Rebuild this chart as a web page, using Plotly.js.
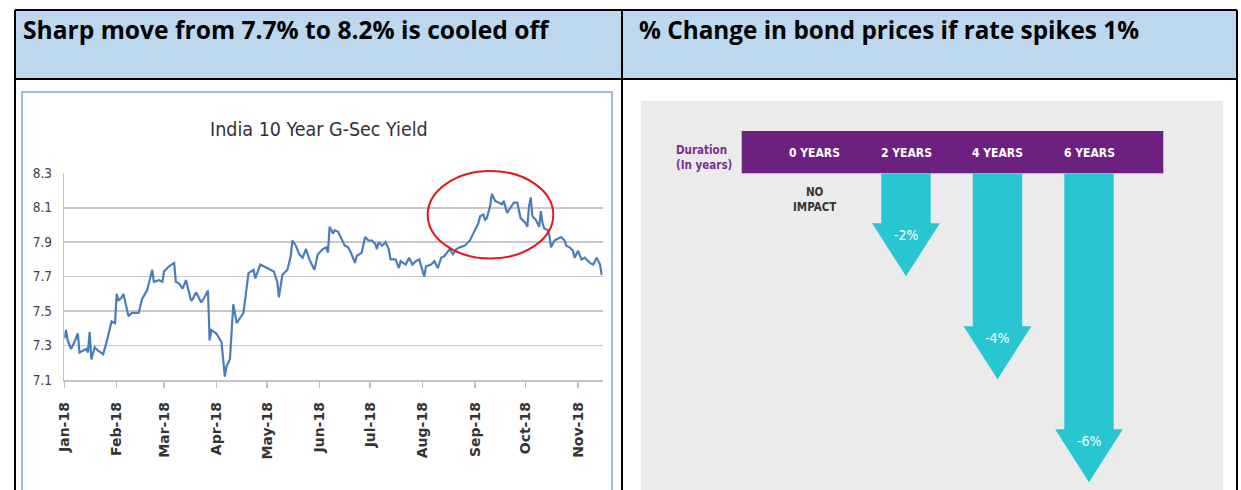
<!DOCTYPE html>
<html><head><meta charset="utf-8">
<script src="https://cdn.plot.ly/plotly-3.0.1.min.js"></script>
<style>html,body{margin:0;padding:0;background:#fff;}#chart{width:1241px;height:490px;}</style>
</head><body><div id="chart"></div>
<script>
// ---------- Left panel data: India 10 Year G-Sec Yield (%) ----------
const dates = ['2018-01-01','2018-01-02','2018-01-03','2018-01-05','2018-01-07','2018-01-09','2018-01-10','2018-01-12','2018-01-14','2018-01-15','2018-01-16','2018-01-17','2018-01-19','2018-01-21','2018-01-24','2018-01-26','2018-01-29','2018-01-31',
'2018-02-01','2018-02-02','2018-02-04','2018-02-05','2018-02-08','2018-02-10','2018-02-13','2018-02-14','2018-02-16','2018-02-19','2018-02-22','2018-02-23','2018-02-26','2018-02-28',
'2018-03-01','2018-03-04','2018-03-07','2018-03-08','2018-03-10','2018-03-12','2018-03-14','2018-03-17','2018-03-18','2018-03-20','2018-03-23','2018-03-25','2018-03-27','2018-03-28','2018-03-29',
'2018-04-01','2018-04-04','2018-04-06','2018-04-07','2018-04-09','2018-04-11','2018-04-13','2018-04-15','2018-04-17','2018-04-20','2018-04-23','2018-04-24','2018-04-27',
'2018-05-01','2018-05-05','2018-05-07','2018-05-08','2018-05-10','2018-05-13','2018-05-15','2018-05-16','2018-05-18','2018-05-20','2018-05-22','2018-05-24','2018-05-26','2018-05-29','2018-05-31',
'2018-06-03','2018-06-05','2018-06-06','2018-06-07','2018-06-09','2018-06-10','2018-06-12','2018-06-14','2018-06-16','2018-06-18','2018-06-20','2018-06-22','2018-06-23','2018-06-26','2018-06-28','2018-06-30',
'2018-07-02','2018-07-04','2018-07-05','2018-07-06','2018-07-08','2018-07-10','2018-07-12','2018-07-13','2018-07-15','2018-07-16','2018-07-18','2018-07-19','2018-07-22','2018-07-24','2018-07-26','2018-07-28','2018-07-30',
'2018-08-01','2018-08-02','2018-08-03','2018-08-06','2018-08-08','2018-08-10','2018-08-12','2018-08-14','2018-08-17','2018-08-19','2018-08-21','2018-08-23','2018-08-26','2018-08-29',
'2018-09-01','2018-09-03','2018-09-04','2018-09-06','2018-09-07','2018-09-08','2018-09-10','2018-09-11','2018-09-13','2018-09-15','2018-09-17','2018-09-18','2018-09-20','2018-09-22','2018-09-24','2018-09-26','2018-09-28',
'2018-10-01','2018-10-02','2018-10-03','2018-10-04','2018-10-05','2018-10-07','2018-10-09','2018-10-10','2018-10-11','2018-10-12','2018-10-14','2018-10-15','2018-10-16','2018-10-18','2018-10-20','2018-10-22','2018-10-24','2018-10-25','2018-10-27','2018-10-29','2018-10-30',
'2018-11-01','2018-11-03','2018-11-05','2018-11-06','2018-11-08','2018-11-10','2018-11-11','2018-11-12','2018-11-14','2018-11-15'];
const yields = [7.34,7.39,7.33,7.28,7.32,7.37,7.26,7.27,7.28,7.26,7.38,7.22,7.29,7.27,7.25,7.32,7.44,7.43,
7.60,7.56,7.58,7.60,7.47,7.49,7.49,7.49,7.57,7.62,7.74,7.67,7.68,7.67,
7.73,7.76,7.78,7.67,7.66,7.63,7.68,7.56,7.57,7.61,7.55,7.58,7.62,7.33,7.39,
7.37,7.32,7.12,7.18,7.22,7.54,7.43,7.46,7.49,7.72,7.74,7.69,7.77,
7.75,7.73,7.67,7.58,7.71,7.74,7.82,7.91,7.88,7.83,7.81,7.86,7.80,7.74,7.83,
7.86,7.87,7.84,7.99,7.95,7.97,7.96,7.92,7.88,7.87,7.83,7.78,7.82,7.84,7.93,7.91,
7.91,7.89,7.86,7.90,7.88,7.90,7.86,7.80,7.80,7.80,7.75,7.79,7.77,7.81,7.77,7.79,7.80,
7.74,7.70,7.76,7.77,7.79,7.75,7.81,7.82,7.86,7.83,7.86,7.87,7.88,7.91,
7.97,8.01,8.05,8.06,8.03,8.04,8.11,8.18,8.14,8.13,8.12,8.14,8.07,8.10,8.13,8.13,8.04,
8.01,7.99,8.11,8.16,8.05,8.03,7.99,8.08,8.01,7.98,7.97,7.94,7.87,7.91,7.92,7.93,7.91,7.88,7.87,7.85,7.81,
7.85,7.80,7.81,7.80,7.78,7.77,7.79,7.81,7.77,7.71];
const monthTicks = ['2018-01-01','2018-02-01','2018-03-01','2018-04-01','2018-05-01','2018-06-01','2018-07-01','2018-08-01','2018-09-01','2018-10-01','2018-11-01'];
const monthLabels = ['Jan-18','Feb-18','Mar-18','Apr-18','May-18','Jun-18','Jul-18','Aug-18','Sep-18','Oct-18','Nov-18'];
const leftTitle = 'Sharp move from 7.7% to 8.2% is cooled off';
const chartTitle = 'India 10 Year G-Sec Yield';

// ---------- Right panel data: % change in bond price if rate spikes 1% ----------
const rightTitle = '% Change in bond prices if rate spikes 1%';
const durations = ['0 YEARS','2 YEARS','4 YEARS','6 YEARS'];
const priceChange = [0, -2, -4, -6];
const changeLabels = ['NO<br>IMPACT','-2%','-4%','-6%'];
const durationHeader = 'Duration<br>(In years)';

// ---------- helpers (pixel -> paper) ----------
const W = 1241, H = 490;
const px = x => x / W;
const py = y => 1 - y / H;

const COND = 'DejaVu Sans Condensed, Liberation Sans Narrow, sans-serif';
const CYAN = '#28C6D1';
const PURPLE = '#6C2180';

// arrow geometry (style, in axis units of x2/y2)
const pxPerPct = 51.5;
const headLen = 1.03, headHalf = 0.37, shaftW = 0.54;

const arrowX = [], arrowBase = [];
const headX = [], headY = [];
priceChange.forEach((v, i) => {
  if (v < 0) {
    arrowX.push(i); arrowBase.push(v + headLen - 0.02);
    headX.push(i - headHalf, i + headHalf, i, i - headHalf, null);
    headY.push(v + headLen, v + headLen, v, v + headLen, null);
  }
});

const traces = [
  {type:'scatter', mode:'lines', x:dates, y:yields, xaxis:'x', yaxis:'y',
   line:{color:'#4A7EBB', width:2.2}, hoverinfo:'skip', showlegend:false},
  {type:'bar', x:arrowX, y:arrowBase, width:shaftW, xaxis:'x2', yaxis:'y2',
   marker:{color:CYAN, line:{width:0}}, hoverinfo:'skip', showlegend:false},
  {type:'scatter', mode:'lines', x:headX, y:headY, fill:'toself', fillcolor:CYAN,
   line:{width:0, color:CYAN}, xaxis:'x2', yaxis:'y2', hoverinfo:'skip', showlegend:false}
];

const annotations = [
  {xref:'paper', yref:'paper', x:px(21), y:py(29), xanchor:'left', yanchor:'middle', showarrow:false,
   text:'<b>'+leftTitle+'</b>', font:{family:'Open Sans, sans-serif', size:24.6, color:'#000'}},
  {xref:'paper', yref:'paper', x:px(637), y:py(29), xanchor:'left', yanchor:'middle', showarrow:false,
   text:'<b>'+rightTitle+'</b>', font:{family:'Open Sans, sans-serif', size:24.3, color:'#000'}},
  {xref:'paper', yref:'paper', x:px(319), y:py(129), xanchor:'center', yanchor:'middle', showarrow:false,
   text:chartTitle, font:{family:COND, size:19.5, color:'#333'}},
  {xref:'paper', yref:'paper', x:px(674), y:py(157), xanchor:'left', yanchor:'middle', align:'left', showarrow:false,
   text:'<b>'+durationHeader+'</b>', font:{family:COND, size:11.5, color:'#7A2E8E'}}
];
durations.forEach((d, i) => {
  annotations.push({xref:'x2', yref:'paper', x:i, y:py(153), xanchor:'center', yanchor:'middle', showarrow:false,
    text:'<b>'+d+'</b>', font:{family:COND, size:12, color:'#fff'}});
  if (priceChange[i] === 0) {
    annotations.push({xref:'x2', yref:'paper', x:i, y:py(199), xanchor:'center', yanchor:'middle', showarrow:false,
      text:'<b>'+changeLabels[i]+'</b>', font:{family:COND, size:11.5, color:'#333'}, align:'center'});
  } else {
    annotations.push({xref:'x2', yref:'y2', x:i, y:priceChange[i] + headLen, yshift:-12, xanchor:'center', yanchor:'middle', showarrow:false,
      text:changeLabels[i], font:{family:COND, size:14, color:'#fff'}});
  }
});

const shapes = [
  // header fill
  {type:'rect', xref:'paper', yref:'paper', x0:px(15), x1:px(1237), y0:py(79), y1:py(10), fillcolor:'#BDD7EE', line:{width:0}, layer:'below'},
  // right grey panel
  {type:'rect', xref:'paper', yref:'paper', x0:px(641), x1:px(1223), y0:0, y1:py(101), fillcolor:'#EBEBEB', line:{width:0}, layer:'below'},
  // purple duration band
  {type:'rect', xref:'paper', yref:'paper', x0:px(741.7), x1:px(1163.3), y0:py(173.3), y1:py(131), fillcolor:PURPLE, line:{width:0}, layer:'below'},
  // chart frame
  {type:'rect', xref:'paper', yref:'paper', x0:px(22), x1:px(612), y0:-0.02, y1:py(92), line:{color:'#A3BCD9', width:2}, layer:'below'},
  // red ellipse highlight
  {type:'circle', xref:'paper', yref:'paper', x0:px(427.7), x1:px(553.3), y0:py(258.5), y1:py(171), line:{color:'#E3171E', width:2}},
  // table borders
  {type:'line', xref:'paper', yref:'paper', x0:px(15), x1:px(1237), y0:py(10), y1:py(10), line:{color:'#000', width:2}},
  {type:'line', xref:'paper', yref:'paper', x0:px(15), x1:px(1237), y0:py(79), y1:py(79), line:{color:'#000', width:2}},
  {type:'line', xref:'paper', yref:'paper', x0:px(15), x1:px(15), y0:0, y1:py(10), line:{color:'#000', width:2}},
  {type:'line', xref:'paper', yref:'paper', x0:px(622), x1:px(622), y0:0, y1:py(10), line:{color:'#000', width:2}},
  {type:'line', xref:'paper', yref:'paper', x0:px(1237), x1:px(1237), y0:0, y1:py(10), line:{color:'#000', width:2}}
];

const layout = {
  width:W, height:H, margin:{l:0, r:0, t:0, b:0},
  paper_bgcolor:'#fff', plot_bgcolor:'rgba(0,0,0,0)', showlegend:false,
  xaxis:{domain:[px(64.3), px(602.7)], type:'date', range:['2018-01-01','2018-11-15 14:00'], anchor:'y',
    tickmode:'array', tickvals:monthTicks, ticktext:monthLabels, tickangle:-90,
    tickfont:{family:'DejaVu Sans, sans-serif', size:14, weight:'bold', color:'#333'},
    ticks:'outside', ticklen:6, tickcolor:'#BFBFBF', tickwidth:1.5, ticklabelstandoff:9,
    showgrid:false, showline:true, linecolor:'#C4C4C4', linewidth:1.5, zeroline:false, fixedrange:true},
  yaxis:{domain:[py(380), py(173.3)], range:[7.1, 8.3], anchor:'x', tickmode:'linear', tick0:7.1, dtick:0.2, tickformat:'.1f',
    tickfont:{family:COND, size:13.5, color:'#404040'}, ticks:'', ticklabelstandoff:8,
    showgrid:true, gridcolor:'#C8C8C8', gridwidth:1.5, showline:true, linecolor:'#C4C4C4', linewidth:1.5, zeroline:false, fixedrange:true},
  xaxis2:{domain:[px(741.7), px(1163.3)], range:[-0.7956, 3.812], anchor:'y2', visible:false, fixedrange:true},
  yaxis2:{domain:[0, py(173.3)], range:[-(H-173.3)/pxPerPct, 0], anchor:'x2', visible:false, fixedrange:true},
  annotations:annotations, shapes:shapes
};

Plotly.newPlot('chart', traces, layout, {staticPlot:true, displayModeBar:false});
</script>
</body></html>
